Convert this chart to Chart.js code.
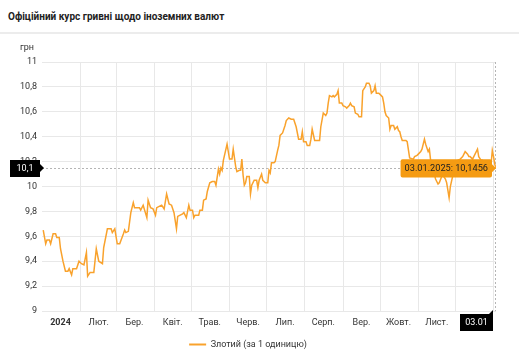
<!DOCTYPE html>
<html lang="uk">
<head>
<meta charset="utf-8">
<script src="https://cdn.jsdelivr.net/npm/chart.js@4"></script>
<style>
  body { margin: 0; background: #fff; font-family: Roboto, "Noto Sans", sans-serif; overflow: hidden; }
  .head {
    height: 32px; line-height: 33px; padding-left: 8px;
    font-size: 10px; font-weight: 700; color: #222;
    border-bottom: 2px solid #ececec;
  }
  .wrap { position: absolute; top: 34px; left: 0; width: 519px; height: 325px; }
</style>
</head>
<body>
<div class="head">Офіційний курс гривні щодо іноземних валют</div>
<div class="wrap"><canvas id="rateChart"></canvas></div>
<script>
// day offsets from 1 Jan 2024 and the zloty rate (UAH per 1 PLN)
const days = [1,3,4,6,7,9,11,12,14,15,17,19,21,22,24,25,28,30,32,34,36,37,39,42,44,46,49,50,53,56,57,59,61,63,66,67,68,70,72,74,75,77,79,80,82,85,86,88,90,92,93,95,97,99,101,102,103,105,107,109,110,112,114,115,117,119,120,122,123,124,127,128,130,131,133,134,136,138,140,141,143,144,145,146,147,150,151,152,154,155,156,157,158,160,161,162,163,164,165,166,168,169,170,172,174,175,176,178,179,181,183,184,185,186,188,189,191,192,193,195,197,198,200,202,204,206,208,210,211,212,214,215,217,218,219,221,222,225,226,228,230,231,232,233,235,236,237,239,240,241,243,244,246,247,249,250,251,253,254,256,257,259,260,262,263,265,266,267,269,270,271,273,274,276,277,278,279,281,282,283,285,286,288,289,290,291,292,295,296,298,301,302,304,305,307,308,310,311,313,314,315,317,319,321,322,324,325,327,328,330,331,333,334,337,339,341,343,345,346,347,349,351,353,354,356,357,360,362,364,365,366,367,368];
const rates = [9.65,9.54,9.57,9.57,9.54,9.62,9.62,9.59,9.59,9.50,9.40,9.32,9.32,9.34,9.29,9.34,9.34,9.40,9.38,9.37,9.47,9.28,9.31,9.31,9.50,9.40,9.38,9.51,9.66,9.66,9.63,9.66,9.54,9.54,9.62,9.65,9.63,9.64,9.79,9.87,9.83,9.83,9.83,9.81,9.85,9.75,9.89,9.83,9.82,9.77,9.83,9.84,9.85,9.82,9.94,9.90,9.86,9.85,9.79,9.66,9.76,9.77,9.78,9.79,9.75,9.85,9.81,9.81,9.75,9.77,9.77,9.81,9.81,9.89,9.90,9.96,10.03,10.04,10.04,10.01,10.14,10.10,10.15,10.13,10.21,10.34,10.28,10.22,10.22,10.30,10.23,10.16,10.12,10.13,10.13,10.22,10.09,10.01,10.03,10.08,10.08,9.94,10.01,10.05,10.05,9.99,10.05,10.10,10.05,10.03,10.03,10.13,10.11,10.19,10.19,10.20,10.29,10.33,10.41,10.43,10.49,10.53,10.55,10.54,10.54,10.48,10.38,10.38,10.44,10.36,10.36,10.33,10.33,10.38,10.46,10.37,10.37,10.37,10.48,10.59,10.57,10.59,10.67,10.73,10.72,10.73,10.72,10.74,10.77,10.67,10.67,10.65,10.64,10.63,10.65,10.67,10.65,10.64,10.59,10.58,10.56,10.56,10.77,10.80,10.83,10.83,10.81,10.75,10.77,10.81,10.75,10.75,10.74,10.72,10.67,10.60,10.57,10.55,10.46,10.49,10.49,10.46,10.48,10.45,10.44,10.40,10.37,10.37,10.36,10.23,10.22,10.24,10.25,10.26,10.28,10.30,10.38,10.34,10.28,10.30,10.21,10.14,10.06,10.02,10.03,10.08,10.09,10.06,10.03,9.91,10.00,10.09,10.17,10.21,10.22,10.24,10.28,10.26,10.24,10.24,10.22,10.26,10.30,10.24,10.21,10.21,10.18,10.17,10.18,10.29,10.24,10.18,10.1456];

// month ticks at month starts; the label is shifted to the middle of the month
const monthLabels = ['2024','Лют.','Бер.','Квіт.','Трав.','Черв.','Лип.','Серп.','Вер.','Жовт.','Лист.','Груд.',''];
const monthStart = [0,31,60,91,121,152,182,213,244,274,305,335,366];

const seriesLabel = 'Злотий (за 1 одиницю)';
const lineColor = '#f9a22c';
const tipColor = '#f59b12';
const gridColor = '#e8e8e8';

function fmtNum(v, digits) {
  return v.toFixed(digits).replace('.', ',');
}
function dayDate(d) {
  const dt = new Date(Date.UTC(2024, 0, 1 + d));
  const dd = String(dt.getUTCDate()).padStart(2, '0');
  const mm = String(dt.getUTCMonth() + 1).padStart(2, '0');
  return { short: dd + '.' + mm, full: dd + '.' + mm + '.' + dt.getUTCFullYear() };
}

const lastIdx = days.length - 1;

// dotted crosshair under the line, value boxes on the axes
const crosshair = {
  id: 'crosshair',
  beforeDatasetsDraw(chart) {
    const pt = chart.getDatasetMeta(0).data[lastIdx];
    const a = chart.chartArea;
    const ctx = chart.ctx;
    ctx.save();
    ctx.strokeStyle = '#b5b5b5';
    ctx.lineWidth = 1;
    ctx.setLineDash([2, 2]);
    ctx.beginPath();
    ctx.moveTo(a.left, Math.round(pt.y) + 0.5);
    ctx.lineTo(a.right, Math.round(pt.y) + 0.5);
    ctx.moveTo(Math.round(pt.x) - 0.5, a.top);
    ctx.lineTo(Math.round(pt.x) - 0.5, a.bottom);
    ctx.stroke();
    ctx.restore();
  },
  afterDraw(chart) {
    const pt = chart.getDatasetMeta(0).data[lastIdx];
    const a = chart.chartArea;
    const ctx = chart.ctx;
    ctx.save();
    ctx.fillStyle = '#333';
    ctx.font = '9px Roboto';
    ctx.textAlign = 'center';
    ctx.textBaseline = 'middle';
    ctx.fillText('грн', 27, a.top - 14);

    // y value box
    ctx.fillStyle = '#000';
    const yb = Math.round(pt.y);
    ctx.fillRect(10, yb - 8, 30, 17);
    ctx.beginPath();
    ctx.moveTo(40, yb - 4);
    ctx.lineTo(44, yb);
    ctx.lineTo(40, yb + 4);
    ctx.fill();
    ctx.fillStyle = '#fff';
    ctx.fillText(fmtNum(rates[lastIdx], 1), 25, yb + 0.5);

    // x value box
    const xr = Math.round(pt.x) - 3;
    const top = a.bottom + 3;
    ctx.fillStyle = '#000';
    ctx.fillRect(xr - 33, top, 33, 17);
    ctx.beginPath();
    ctx.moveTo(xr - 4, top);
    ctx.lineTo(xr, top - 4);
    ctx.lineTo(xr, top);
    ctx.fill();
    ctx.fillStyle = '#fff';
    ctx.fillText(dayDate(days[lastIdx]).short, xr - 16.5, top + 9);
    ctx.restore();
  }
};

const ctx = document.getElementById('rateChart').getContext('2d');
const chart = new Chart(ctx, {
  type: 'line',
  data: {
    datasets: [{
      label: seriesLabel,
      data: days.map((d, i) => ({ x: d, y: rates[i] })),
      borderColor: lineColor,
      backgroundColor: lineColor,
      borderWidth: 1.5,
      pointRadius: 0,
      pointHoverRadius: 0,
      tension: 0
    }]
  },
  options: {
    responsive: true,
    maintainAspectRatio: false,
    animation: false,
    events: [],
    layout: { padding: { top: 28, right: 23, bottom: 0, left: 0 } },
    scales: {
      x: {
        type: 'linear',
        min: 0,
        max: 368,
        afterBuildTicks(scale) {
          scale.ticks = monthStart.map(v => ({ value: v }));
        },
        afterFit(scale) { scale.height = 25; },
        grid: {
          drawTicks: false,
          color: c => (c.index === 0 ? 'rgba(0,0,0,0)' : gridColor)
        },
        border: { display: false },
        ticks: {
          autoSkip: false,
          maxRotation: 0,
          padding: 6,
          labelOffset: 18.5,
          color: '#333',
          font: c => ({ family: 'Roboto', size: 9, weight: c.index === 0 ? 'bold' : 'normal' }),
          callback: (v, i) => monthLabels[i]
        }
      },
      y: {
        min: 9,
        max: 11,
        afterFit(scale) { scale.width = 42; },
        grid: { color: gridColor, drawTicks: false },
        border: { display: false },
        ticks: {
          stepSize: 0.2,
          padding: 5,
          color: '#333',
          font: { family: 'Roboto', size: 9 },
          callback: v => String(Math.round(v * 10) / 10).replace('.', ',')
        }
      }
    },
    plugins: {
      legend: {
        position: 'bottom',
        labels: {
          color: '#333',
          font: { family: 'Roboto', size: 9 },
          boxWidth: 17,
          boxHeight: 2,
          padding: 4,
          generateLabels(c) {
            return Chart.defaults.plugins.legend.labels.generateLabels(c)
              .map(l => Object.assign(l, { lineWidth: 0, fillStyle: lineColor }));
          }
        }
      },
      tooltip: {
        enabled: true,
        xAlign: 'right',
        yAlign: 'center',
        caretSize: 4,
        caretPadding: 0,
        cornerRadius: 2,
        padding: { left: 4, right: 4, top: 4, bottom: 3 },
        backgroundColor: tipColor,
        bodyColor: '#222',
        bodyFont: { family: 'Roboto', size: 9.2 },
        displayColors: false,
        callbacks: {
          title: () => [],
          label: c => dayDate(c.raw.x).full + ': ' + fmtNum(c.raw.y, 4)
        }
      }
    }
  },
  plugins: [crosshair]
});

// keep the latest rate highlighted
const pt = chart.getDatasetMeta(0).data[lastIdx];
chart.setActiveElements([{ datasetIndex: 0, index: lastIdx }]);
chart.tooltip.setActiveElements([{ datasetIndex: 0, index: lastIdx }], { x: pt.x, y: pt.y });
chart.update();
</script>
</body>
</html>
